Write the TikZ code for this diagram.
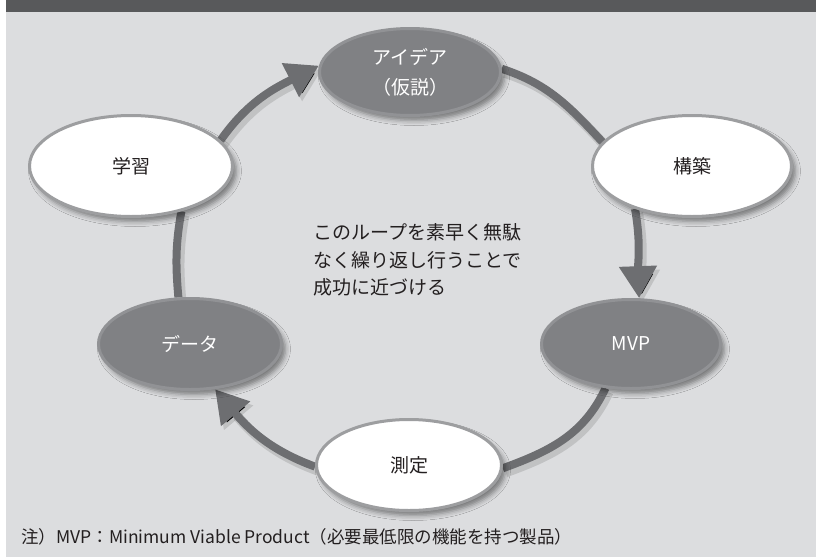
\documentclass[tikz,border=0pt]{standalone}
\usepackage{fontspec}
\setmainfont{Noto Sans CJK JP}
\usetikzlibrary{shapes.geometric,arrows.meta,shadows,shadows.blur,backgrounds}
\definecolor{bgc}{RGB}{220,221,223}
\definecolor{barc}{RGB}{88,89,91}
\definecolor{darkfill}{RGB}{128,129,132}
\definecolor{darkedge}{RGB}{145,146,149}
\definecolor{lightedge}{RGB}{157,158,160}
\definecolor{connc}{RGB}{109,110,113}
\definecolor{txtc}{RGB}{35,31,32}
\tikzset{
  ovalbase/.style={ellipse, inner sep=0pt, line width=3pt,
    blur shadow={shadow xshift=4pt, shadow yshift=-5pt, shadow blur radius=5pt, shadow opacity=45},
    font=\fontsize{19pt}{30pt}\selectfont, align=center},
  lightoval/.style={ovalbase, fill=white, draw=lightedge, text=txtc},
  darkoval/.style={ovalbase, fill=darkfill, draw=darkedge, text=white},
  conn/.style={draw=connc, line width=8pt,
    preaction={draw=black, draw opacity=0.12, line width=10pt, transform canvas={shift={(3pt,-4pt)}}}},
  tipped/.style={-{Triangle[length=32pt,width=36pt]}},
}
\begin{document}
\begin{tikzpicture}[x=1pt,y=-1pt]
\useasboundingbox (0,0) rectangle (816,557);
% nodes
\node[darkoval, minimum width=181pt, minimum height=87pt] (idea) at (410,72) {アイデア\\（仮説）};
\node[lightoval, minimum width=199pt, minimum height=101pt] (build) at (692,166) {構築};
\node[darkoval, minimum width=179pt, minimum height=89pt] (mvp) at (631,344) {MVP};
\node[lightoval, minimum width=185pt, minimum height=91pt] (measure) at (409,465) {測定};
\node[darkoval, minimum width=183pt, minimum height=91pt] (data) at (190,344) {データ};
\node[lightoval, minimum width=203pt, minimum height=101pt] (learn) at (131,166) {学習};
\node[anchor=west, inner sep=0pt, align=left, text=txtc,
  font=\fontsize{19pt}{27.5pt}\selectfont] (center) at (313,260)
  {このループを素早く無駄\\なく繰り返し行うことで\\成功に近づける};
\node[anchor=west, inner sep=0pt, text=txtc, font=\fontsize{17.5pt}{19pt}\selectfont] (note) at (21,537)
  {注）MVP：Minimum Viable Product（必要最低限の機能を持つ製品）};
\begin{scope}[on background layer]
  \fill[bgc] (6,0) rectangle (816,557);
  \fill[barc] (6,0) rectangle (816,12);
  \draw[conn, tipped] (learn.16) to[out=55, in=207] (idea.176);
  \draw[conn] (idea.2) to[out=-18, in=133] (build.165);
  \draw[conn, tipped] (build.217) to[out=-80, in=92] (mvp.80);
  \draw[conn] (mvp.240) to[out=-115, in=20] (measure.-2);
  \draw[conn, tipped] (measure.181) to[out=160, in=-50] (data.-61);
  \draw[conn] (data.104) to[out=95, in=-100] (learn.-42);
\end{scope}
\end{tikzpicture}
\end{document}
